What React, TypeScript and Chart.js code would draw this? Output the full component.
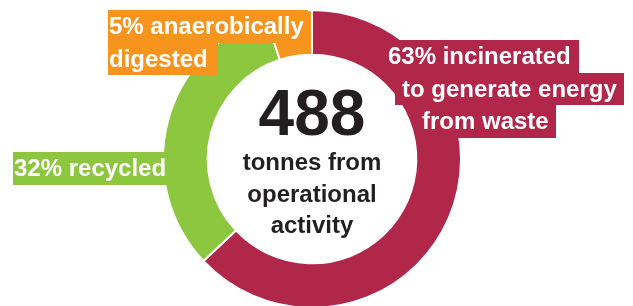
import React, { useEffect, useRef } from "react";
import { Chart, registerables } from "chart.js";

Chart.register(...registerables);

const categories = ["Incinerated to generate energy from waste", "Recycled", "Anaerobically digested"];
const shares = [63, 32, 5];
const sliceColors = ["#B0274A", "#8DC63F", "#F7941D"];
const labelLines = [
  ["63% incinerated", "to generate energy", "from waste"],
  ["32% recycled"],
  ["5% anaerobically", "digested"],
];
const centerValue = "488";
const centerLines = ["tonnes from", "operational", "activity"];

const FONT = '"Liberation Sans", Arial, Helvetica, sans-serif';

// label placement (layout only)
const labelLayout = [
  { xs: [388, 402, 422], top: 40, padL: 7, padR: [8, 7, 7] },
  { xs: [14], top: 152, padL: 1, padR: [3] },
  { xs: [109, 109], top: 10, padL: 1, padR: [4, 10] },
];

const overlayPlugin = {
  id: "overlay",
  afterDraw(chart: any) {
    const ctx = chart.ctx as CanvasRenderingContext2D;
    const meta = chart.getDatasetMeta(0);
    const arc = meta.data[0];
    const cx = arc.x;
    const cy = arc.y;
    ctx.save();
    // center text
    ctx.fillStyle = "#231F20";
    ctx.textAlign = "center";
    ctx.textBaseline = "alphabetic";
    ctx.font = `bold 64px ${FONT}`;
    ctx.fillText(centerValue, cx, cy - 24);
    ctx.font = `bold 24px ${FONT}`;
    centerLines.forEach((t, i) => {
      ctx.fillText(t, cx, cy + 11 + i * 31.5);
    });
    // labels
    ctx.textAlign = "left";
    const lineH = 32.5;
    labelLines.forEach((lines, si) => {
      const lay = labelLayout[si];
      lines.forEach((t, li) => {
        const x = lay.xs[li];
        const top = Math.round(lay.top + li * lineH);
        const bottom = Math.round(lay.top + (li + 1) * lineH);
        const w = ctx.measureText(t).width;
        ctx.fillStyle = sliceColors[si];
        ctx.fillRect(x - lay.padL, top, Math.round(w + lay.padL + lay.padR[li]), bottom - top);
        ctx.fillStyle = "#FFFFFF";
        ctx.fillText(t, x, top + 23.5);
      });
    });
    ctx.restore();
  },
};

export default function App() {
  const ref = useRef<HTMLCanvasElement>(null);
  useEffect(() => {
    if (!ref.current) return;
    const chart = new Chart(ref.current, {
      type: "doughnut",
      data: {
        labels: categories,
        datasets: [
          {
            data: shares,
            backgroundColor: sliceColors,
            borderColor: "#FFFFFF",
            borderWidth: 2,
          },
        ],
      },
      options: {
        responsive: false,
        animation: false,
        cutout: "70%",
        layout: { padding: { left: 0, right: 9, top: 9, bottom: 11 } },
        plugins: {
          legend: { display: false },
          tooltip: { enabled: false },
        },
      },
      plugins: [overlayPlugin],
    });
    return () => chart.destroy();
  }, []);
  return (
    <div
      style={{
        position: "fixed",
        left: 0,
        top: 0,
        width: 633,
        height: 306,
        overflow: "hidden",
        background: "#fff",
      }}
    >
      <canvas ref={ref} width={633} height={320} style={{ display: "block", width: 633, height: 320 }} />
    </div>
  );
}
